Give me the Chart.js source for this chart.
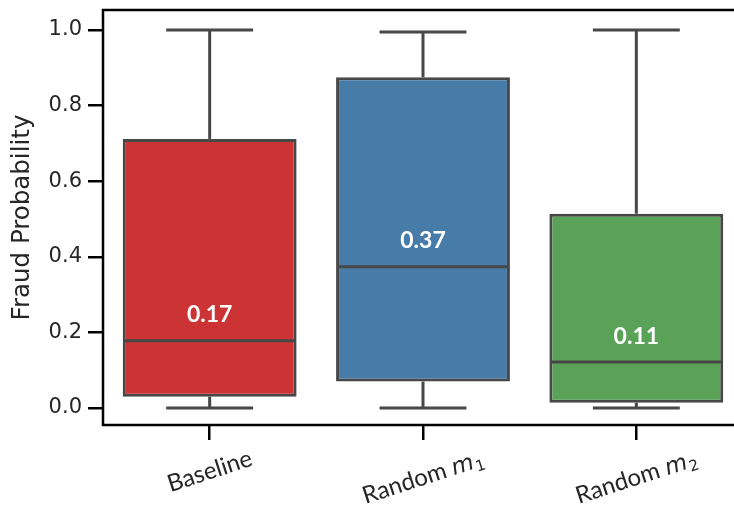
<!DOCTYPE html>
<html><head><meta charset="utf-8">
<script src="https://cdn.jsdelivr.net/npm/chart.js@4"></script>
<style>html,body{margin:0;padding:0;background:#fff;overflow:hidden;width:734px;height:518px}
#wrap{position:absolute;left:0;top:0;width:746px;height:518px}</style>
</head><body><div id="wrap"><canvas id="c" width="746" height="518"></canvas></div>
<script>
// ---- data ----
const categories = ['Baseline', 'Random m1', 'Random m2'];
const labelMain = ['Baseline', 'Random ', 'Random '];
const labelMath = ['', 'm', 'm'];
const labelSub = ['', '1', '2'];
const whiskerLow = [0.0, 0.0, 0.0];
const q1 = [0.030, 0.070, 0.014];
const medians = [0.178, 0.374, 0.122];
const q3 = [0.712, 0.875, 0.514];
const whiskerHigh = [1.0, 0.995, 1.0];
const medianLabels = ['0.17', '0.37', '0.11'];
const boxColors = ['#CB3335', '#477CA8', '#59A257'];
const yTicks = [0.0, 0.2, 0.4, 0.6, 0.8, 1.0];
const yTitle = 'Fraud Probability';

const LINE = '#474747';
const boxPlugin = {
  id: 'boxplot',
  afterDatasetsDraw(chart) {
    const ctx = chart.ctx, y = chart.scales.y;
    const meta = chart.getDatasetMeta(0);
    ctx.save();
    ctx.strokeStyle = LINE; ctx.lineWidth = 3; ctx.lineCap = 'butt';
    const line = (x1, y1, x2, y2) => { ctx.beginPath(); ctx.moveTo(x1, y1); ctx.lineTo(x2, y2); ctx.stroke(); };
    meta.data.forEach((bar, i) => {
      const cx = bar.x, hw = bar.width / 2;
      const yq1 = y.getPixelForValue(q1[i]), yq3 = y.getPixelForValue(q3[i]);
      const ylo = y.getPixelForValue(whiskerLow[i]), yhi = y.getPixelForValue(whiskerHigh[i]);
      line(cx, yq3, cx, yhi); line(cx, yq1, cx, ylo);
      line(cx - hw / 2, yhi, cx + hw / 2, yhi); line(cx - hw / 2, ylo, cx + hw / 2, ylo);
      const ym = y.getPixelForValue(medians[i]);
      line(cx - hw + 1, ym, cx + hw - 1, ym);
      ctx.fillStyle = '#fff'; ctx.font = 'bold 23px Lato';
      ctx.textAlign = 'center'; ctx.textBaseline = 'middle';
      ctx.fillText(medianLabels[i], cx, y.getPixelForValue(medians[i] + 0.068));
    });
    const a = chart.chartArea;
    ctx.strokeStyle = '#000'; ctx.lineWidth = 2.5;
    ctx.strokeRect(a.left, a.top, a.right - a.left, a.bottom - a.top);
    // x tick labels (rotated, centred under tick)
    const theta = 18 * Math.PI / 180;
    const top = a.bottom + 15 + 7;
    const fMain = '24px Lato', fMath = 'italic 23px "DejaVu Sans"', fSub = '15px "DejaVu Sans"';
    ctx.fillStyle = '#262626';
    meta.data.forEach((bar, i) => {
      ctx.font = fMain; const w1 = ctx.measureText(labelMain[i]).width;
      ctx.font = fMath; const w2 = labelMath[i] ? ctx.measureText(labelMath[i]).width : 0;
      ctx.font = fSub; const w3 = labelSub[i] ? ctx.measureText(labelSub[i]).width + 1 : 0;
      const w = w1 + w2 + w3, h = 22;
      const H = w * Math.sin(theta) + h * Math.cos(theta);
      const cy = top + H / 2;
      ctx.save();
      ctx.translate(bar.x, cy); ctx.rotate(-theta);
      ctx.textAlign = 'left'; ctx.textBaseline = 'alphabetic';
      let x0 = -w / 2; const base = 8;
      ctx.font = fMain; ctx.fillText(labelMain[i], x0, base); x0 += w1;
      if (labelMath[i]) { ctx.font = fMath; ctx.fillText(labelMath[i], x0, base); x0 += w2; }
      if (labelSub[i]) { ctx.font = fSub; ctx.fillText(labelSub[i], x0 + 1, base + 4); }
      ctx.restore();
    });
    ctx.restore();
  }
};

new Chart(document.getElementById('c'), {
  type: 'bar',
  data: {
    labels: categories,
    datasets: [{
      data: q1.map((v, i) => [v, q3[i]]),
      backgroundColor: boxColors,
      borderColor: LINE,
      borderWidth: 3,
      borderSkipped: false,
      barPercentage: 0.815,
      categoryPercentage: 1.0
    }]
  },
  options: {
    responsive: false,
    animation: false,
    layout: { padding: { left: 0, top: 10, right: 3, bottom: 0 } },
    plugins: { legend: { display: false }, tooltip: { enabled: false } },
    scales: {
      x: {
        type: 'category', offset: true,
        grid: { display: true, offset: false, drawOnChartArea: false, drawTicks: true, tickLength: 15, color: '#000', lineWidth: 2.5 },
        ticks: { display: false },
        border: { display: false },
        afterFit: s => { s.height = 93; s.paddingLeft = 0; s.paddingRight = 0; }
      },
      y: {
        min: -0.045, max: 1.053,
        afterBuildTicks: s => { s.ticks = yTicks.map(v => ({ value: v })); },
        ticks: { callback: v => Number(v).toFixed(1), font: { family: 'DejaVu Sans', size: 21 }, color: '#262626', padding: 6 },
        grid: { display: true, drawOnChartArea: false, drawTicks: true, tickLength: 15, color: '#000', lineWidth: 2.5 },
        border: { display: false },
        title: { display: true, text: yTitle, font: { family: 'DejaVu Sans', size: 24.5 }, color: '#262626', padding: { top: 8, bottom: 0 } },
        afterFit: s => { s.width = 103; s.paddingTop = 0; s.paddingBottom = 0; }
      }
    }
  },
  plugins: [boxPlugin]
});
</script></body></html>
